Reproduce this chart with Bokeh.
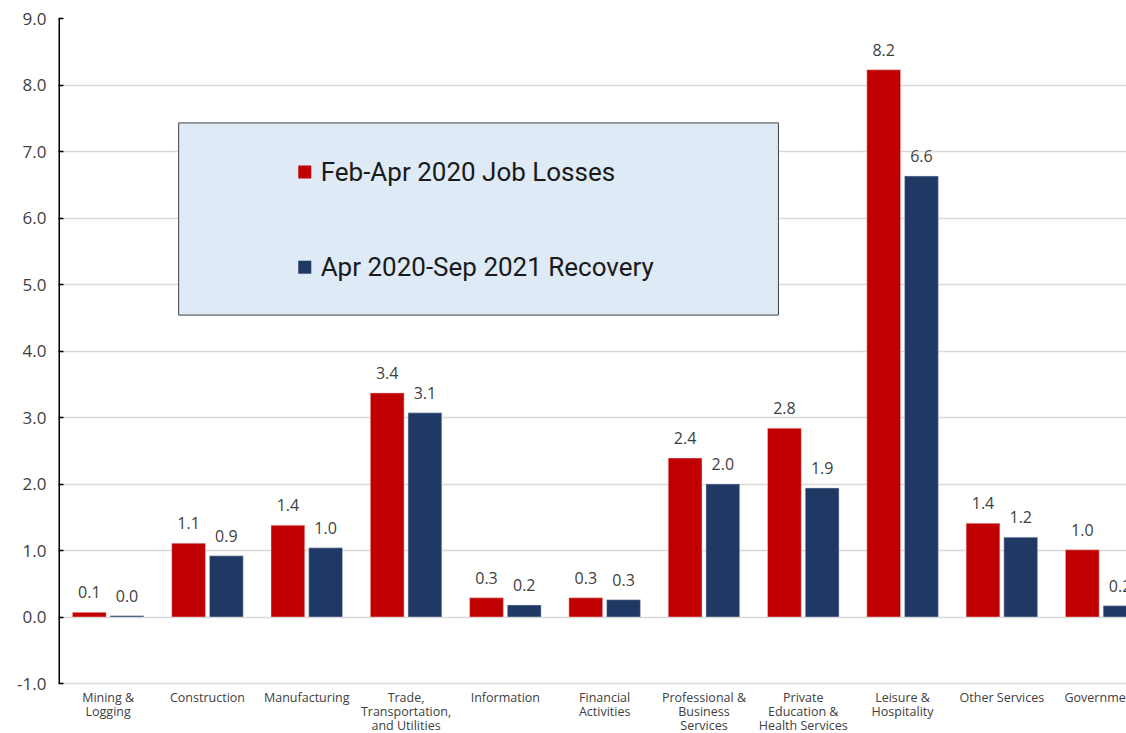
from bokeh.plotting import figure
from bokeh.models import FixedTicker, Range1d, ColumnDataSource
from bokeh.core.properties import value
from bokeh.embed import file_html
from bokeh.resources import INLINE

categories = ["Mining &\nLogging", "Construction", "Manufacturing",
              "Trade,\nTransportation,\nand Utilities", "Information",
              "Financial\nActivities", "Professional &\nBusiness\nServices",
              "Private\nEducation &\nHealth Services", "Leisure &\nHospitality",
              "Other Services", "Government"]
job_losses = [0.07, 1.11, 1.38, 3.37, 0.29, 0.29, 2.39, 2.84, 8.23, 1.41, 1.01]
recovery = [0.02, 0.92, 1.04, 3.07, 0.18, 0.26, 2.00, 1.94, 6.63, 1.20, 0.17]
series_names = ["Feb-Apr 2020 Job Losses", "Apr 2020-Sep 2021 Recovery"]
y_ticks = [-1.0, 0.0, 1.0, 2.0, 3.0, 4.0, 5.0, 6.0, 7.0, 8.0, 9.0]

RED = "#C00000"
NAVY = "#203864"
TXT = "#404040"
FONT = "Open Sans"

centers = [i + 0.5 for i in range(len(categories))]
off = 0.19
bw = 0.34
y_min, y_max = y_ticks[0], y_ticks[-1]
# frame extends below the -1.0 line to leave room for the category labels
y_bottom = y_min - 50.0 / 66.5

p = figure(width=1126, height=733, output_backend="svg", toolbar_location=None,
           x_range=Range1d(0, 10.755), y_range=Range1d(y_bottom, y_max),
           min_border_left=58, min_border_right=0, min_border_top=18,
           min_border_bottom=0)
p.outline_line_color = None
p.background_fill_color = "white"

src_r = ColumnDataSource(dict(x=[c - off for c in centers], top=job_losses,
                              lab=[f"{v:.1f}" for v in job_losses]))
src_b = ColumnDataSource(dict(x=[c + off for c in centers], top=recovery,
                              lab=[f"{v:.1f}" for v in recovery]))
p.vbar(x="x", top="top", bottom=0, width=bw, source=src_r, fill_color=RED,
       line_color="#f0d0d0", line_width=0.5)
p.vbar(x="x", top="top", bottom=0, width=bw, source=src_b, fill_color=NAVY,
       line_color="#c8d0e0", line_width=0.5)
for s in (src_r, src_b):
    p.text(x="x", y="top", text="lab", source=s, text_align="center",
           text_baseline="bottom", y_offset=-14, text_font=value(FONT),
           text_font_size="16px", text_color=TXT)

# y axis line, only from -1.0 to 9.0
p.segment(x0=[0], x1=[0], y0=[y_min], y1=[y_max], line_color="black",
          line_width=3)

# legend box
p.quad(left=[1.21], right=[7.25], top=[7.43], bottom=[4.54],
       fill_color="#DEEAF6", line_color="#404040", line_width=1)
p.scatter(x=[2.48, 2.48], y=[6.69, 5.26], marker="square", size=13,
          fill_color=[RED, NAVY], line_color=None)
p.text(x=[2.64, 2.64], y=[6.69, 5.26], text=series_names, text_align="left",
       text_baseline="middle", text_font=value("Roboto"),
       text_font_size="26px", text_color="#1a1a1a")

# category labels below the -1.0 line
p.text(x=centers, y=[y_min] * len(centers), text=categories,
       text_align="center", text_baseline="top", y_offset=5,
       text_font=value(FONT), text_font_size="12.5px", text_line_height=0.83,
       text_color=TXT)

# axes
p.yaxis.ticker = FixedTicker(ticks=y_ticks)
p.yaxis.major_label_overrides = {t: f"{t:.1f}" for t in y_ticks}
p.yaxis.axis_line_color = None
p.yaxis.major_tick_line_color = "black"
p.yaxis.major_tick_line_width = 1.5
p.yaxis.major_tick_in = 5
p.yaxis.major_tick_out = 0
p.yaxis.minor_tick_line_color = None
p.yaxis.major_label_text_font = FONT
p.yaxis.major_label_text_font_size = "17px"
p.yaxis.major_label_text_color = TXT
p.yaxis.major_label_standoff = 12

p.xaxis.visible = False

p.xgrid.grid_line_color = None
p.ygrid.ticker = FixedTicker(ticks=y_ticks)
p.ygrid.grid_line_color = "#D9D9D9"
p.ygrid.grid_line_width = 1.5

open("out.html", "w").write(file_html(p, INLINE))
